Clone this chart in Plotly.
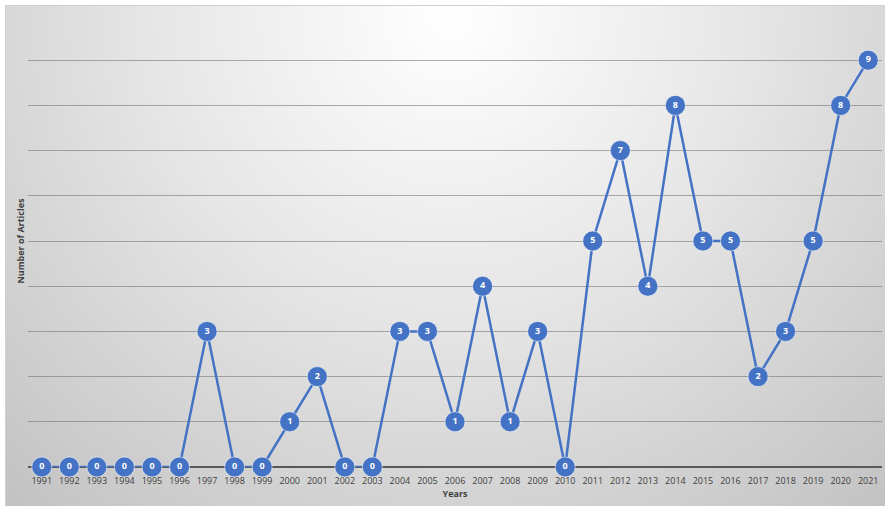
import base64
import plotly.graph_objects as go

years = [str(y) for y in range(1991, 2022)]
articles = [0, 0, 0, 0, 0, 0, 3, 0, 0, 1, 2, 0, 0, 3, 3, 1, 4, 1, 3, 0,
            5, 7, 4, 8, 5, 5, 2, 3, 5, 8, 9]

W, H = 885, 506
ML, MR, MT, MB = 28, 3, 15, 39
pw, ph = W - ML - MR, H - MT - MB

svg = f'''<svg xmlns="http://www.w3.org/2000/svg" width="{W}" height="{H}" viewBox="0 0 {W} {H}">
<defs><radialGradient id="g" gradientUnits="userSpaceOnUse" cx="450" cy="15" r="660">
<stop offset="0" stop-color="#ffffff"/><stop offset="0.45" stop-color="#e6e6e6"/><stop offset="1" stop-color="#c2c2c2"/></radialGradient></defs>
<rect x="0" y="0" width="{W}" height="{H}" fill="#ffffff"/>
<rect x="5.5" y="5.5" width="{W}" height="{H}" fill="url(#g)" stroke="#d0d0d0" stroke-width="1"/>
</svg>'''
src = "data:image/svg+xml;base64," + base64.b64encode(svg.encode()).decode()

fig = go.Figure()
fig.add_trace(go.Scatter(
    x=years, y=articles, mode="lines+markers+text",
    line=dict(color="#4472C4", width=2.5),
    marker=dict(size=20, color="#4472C4", line=dict(color="#ffffff", width=0.5)),
    text=[str(v) for v in articles], textposition="middle center",
    textfont=dict(color="#ffffff", size=9, family="Open Sans", weight="bold"),
    cliponaxis=False, hoverinfo="x+y", showlegend=False,
))

fig.update_layout(
    width=W, height=H,
    margin=dict(l=ML, r=MR, t=MT, b=MB),
    paper_bgcolor="#ffffff", plot_bgcolor="rgba(0,0,0,0)",
    font=dict(family="Open Sans", color="#404040"),
    images=[dict(source=src, xref="paper", yref="paper",
                 x=-ML / pw, y=1 + MT / ph, sizex=W / pw, sizey=H / ph,
                 xanchor="left", yanchor="top", sizing="stretch", layer="below")],
    xaxis=dict(type="category", range=[-0.5, 30.5], showgrid=False,
               tickfont=dict(size=9, color="#404040"), ticks="",
               ticklabelstandoff=7,
               showline=False, zeroline=False,
               title=dict(text="<b>Years</b>", font=dict(size=9, color="#404040"), standoff=4)),
    yaxis=dict(range=[0, 10], dtick=1, showticklabels=False, ticks="",
               showgrid=True, gridcolor="rgba(110,110,110,0.55)", gridwidth=1,
               zeroline=True, zerolinecolor="#595959", zerolinewidth=2,
               title=dict(text="<b>Number of Articles</b>", font=dict(size=9, color="#404040"), standoff=0)),
)

fig.write_html("out.html")
